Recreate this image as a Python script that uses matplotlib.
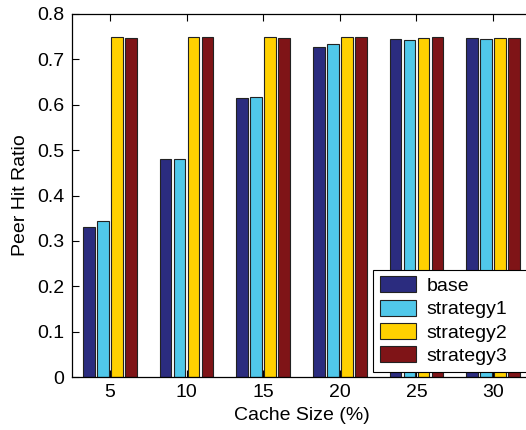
import matplotlib.pyplot as plt
import numpy as np

plt.rcParams['font.family'] = ['Liberation Sans', 'DejaVu Sans']

cache_sizes = ['5', '10', '15', '20', '25', '30']
series_names = ['base', 'strategy1', 'strategy2', 'strategy3']
base = [0.330, 0.481, 0.614, 0.727, 0.745, 0.747]
strategy1 = [0.343, 0.480, 0.617, 0.734, 0.743, 0.746]
strategy2 = [0.749, 0.749, 0.749, 0.749, 0.748, 0.748]
strategy3 = [0.747, 0.749, 0.747, 0.749, 0.749, 0.748]
colors = ['#2B2C7F', '#50C8EA', '#FFD100', '#7F1417']

fig = plt.figure(figsize=(5.26, 4.30), dpi=100)
ax = fig.add_axes([71.5 / 526, 53 / 430, 460 / 526, 363 / 430])

x = np.arange(1, len(cache_sizes) + 1)
slot = 0.182
width = 0.15
for i, (vals, name, col) in enumerate(zip([base, strategy1, strategy2, strategy3], series_names, colors)):
    ax.bar(x + (i - 1.5) * slot, vals, width, color=col, edgecolor='#222222',
           linewidth=0.8, label=name, zorder=2)

ax.set_xlim(0.5, 6.5)
ax.set_ylim(0, 0.8)
ax.set_xticks(x)
ax.set_xticklabels(cache_sizes)
yt = np.arange(0, 0.81, 0.1)
ax.set_yticks(yt)
ax.set_yticklabels(['0'] + ['%.1f' % v for v in yt[1:]])
ax.tick_params(direction='in', length=5, width=0.8, top=True, right=False,
               labelsize=14, pad=5)
for s in ax.spines.values():
    s.set_linewidth(0.9)
ax.spines['right'].set_visible(False)

ax.set_xlabel('Cache Size (%)', fontsize=14, labelpad=4)
ax.set_ylabel('Peer Hit Ratio', fontsize=14, labelpad=6)

# legend box runs past the right edge of the figure, as in the original
leg = ax.legend(loc='lower left', bbox_to_anchor=(0.656, 0.014, 0.36, 0.28),
                mode='expand', borderaxespad=0,
                fontsize=14, handlelength=1.85, handleheight=0.88,
                handletextpad=0.55, labelspacing=0.24, borderpad=0.35,
                fancybox=False, framealpha=1, edgecolor='black')
leg.get_frame().set_linewidth(0.8)

fig.savefig('out.png', dpi=100)
